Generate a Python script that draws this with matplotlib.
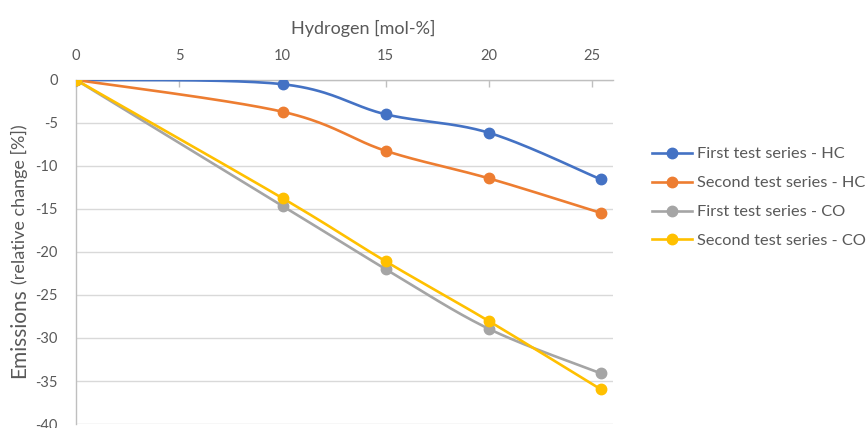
import numpy as np
import matplotlib
matplotlib.use("Agg")
import matplotlib.pyplot as plt
from matplotlib.lines import Line2D

plt.rcParams['font.family'] = ['Lato', 'DejaVu Sans']
plt.rcParams['axes.unicode_minus'] = False

# data
hydrogen = [0, 10, 15, 20, 25.4]
hc_first = [0, -0.5, -4.0, -6.15, -11.55]
hc_second = [0, -3.7, -8.25, -11.45, -15.45]
co_first = [0, -14.65, -22.0, -28.95, -34.1]
co_second = [0, -13.75, -21.1, -28.05, -35.95]

series = [hc_first, hc_second, co_first, co_second]
labels = ["First test series - HC", "Second test series - HC",
          "First test series - CO", "Second test series - CO"]
colors = ["#4472C4", "#ED7D31", "#A5A5A5", "#FFC000"]

text_color = "#595959"
axis_color = "#BFBFBF"
grid_color = "#D9D9D9"


def smooth(x, y, n=40):
    # excel-like smoothed line: bezier segments through the points
    p = np.column_stack([x, y]).astype(float)
    pts = np.vstack([p[0], p, p[-1]])
    out = []
    t = np.linspace(0, 1, n)[:, None]
    for i in range(1, len(pts) - 2):
        p0, p1, p2, p3 = pts[i - 1], pts[i], pts[i + 1], pts[i + 2]
        c1 = p1 + (p2 - p0) / 6
        c2 = p2 - (p3 - p1) / 6
        seg = (1 - t) ** 3 * p1 + 3 * (1 - t) ** 2 * t * c1 + 3 * (1 - t) * t ** 2 * c2 + t ** 3 * p2
        out.append(seg if i == 1 else seg[1:])
    s = np.vstack(out)
    return s[:, 0], s[:, 1]


fig = plt.figure(figsize=(8.66, 4.28), dpi=100)
ax = fig.add_axes([0.0878, 0.0093, 0.62, 0.804])

for vals, col in zip(series, colors):
    sx, sy = smooth(hydrogen, vals)
    ax.plot(sx, sy, color=col, lw=1.9, solid_capstyle='round', zorder=3)
    ax.plot(hydrogen, vals, 'o', color=col, ms=7.5, zorder=4)

ax.set_xlim(0, 26)
ax.set_ylim(-40, 0)
ax.set_xticks(np.arange(0, 26, 5))
ax.set_yticks(np.arange(-40, 1, 5))

ax.xaxis.tick_top()
ax.xaxis.set_label_position('top')
ax.set_xlabel("Hydrogen [mol-%]", fontsize=13, color=text_color, labelpad=11)
ax.xaxis.label.set_x(0.534)

ax.tick_params(axis='x', direction='in', length=5, width=1, color=axis_color,
               labelsize=10.5, labelcolor=text_color, pad=12)
ax.tick_params(axis='y', length=0, labelsize=10.5, labelcolor=text_color, pad=13)

for side in ['right', 'bottom']:
    ax.spines[side].set_visible(False)
for side in ['top', 'left']:
    ax.spines[side].set_color(axis_color)
    ax.spines[side].set_linewidth(1)

ax.yaxis.grid(True, color=grid_color, lw=1)
ax.set_axisbelow(True)

# y label with a smaller second part
t1 = fig.text(25 / 866, 1 - 378 / 428, "Emissions", rotation=90, rotation_mode='anchor',
              ha='left', va='baseline', fontsize=15, color=text_color)
fig.canvas.draw()
bb = t1.get_window_extent()
fig.text(25 / 866, (bb.y1 + 4) / fig.bbox.height, "(relative change [%])", rotation=90,
         rotation_mode='anchor', ha='left', va='baseline', fontsize=13, color=text_color)

handles = [Line2D([], [], color=c, lw=1.9, marker='o', ms=7.5) for c in colors]
fig.legend(handles, labels, loc='upper left', bbox_to_anchor=(652 / 866, 1 - 147 / 428),
           frameon=False, fontsize=11.8, labelcolor=text_color, handlelength=2.45,
           handletextpad=0.3, labelspacing=0.88, borderpad=0, borderaxespad=0)

fig.savefig("out.png", dpi=100)
